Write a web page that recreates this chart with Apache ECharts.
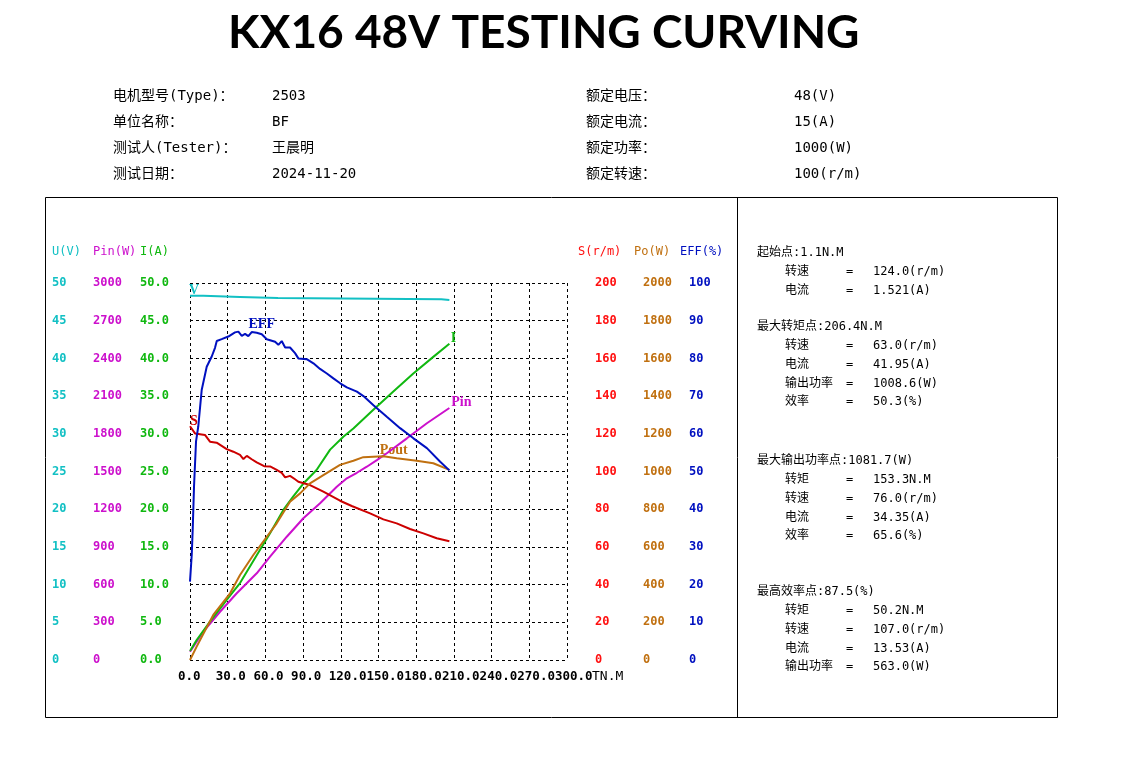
<!DOCTYPE html>
<html>
<head>
<meta charset="utf-8">
<title>KX16 48V TESTING CURVING</title>
<script src="https://cdn.jsdelivr.net/npm/echarts@6/dist/echarts.min.js"></script>
<style>
  html, body { margin: 0; padding: 0; background: #fff; }
  #main { width: 1129px; height: 769px; }
</style>
</head>
<body>
<div id="main"></div>
<script>
// torque axis, N.M
const torqueMin = 0, torqueMax = 300, torqueStep = 30;

// voltage U(V)
const vTorque = [0, 10.6, 10.7, 39.8, 39.9, 70, 70.1, 200, 200.1, 206.4];
const vVolt   = [48.3, 48.3, 48.15, 48.15, 48.0, 48.0, 47.85, 47.85, 47.75, 47.75];

// efficiency EFF(%)
const effTorque = [0, 1.4, 2.2, 3.2, 4.8, 6.6, 9.3, 13.3, 17.3, 19.9, 21.3, 25.2, 30.5, 35.8, 38.5, 41.2, 43.8, 46.4,
  49.1, 53.1, 57.1, 61.1, 67.7, 70.3, 73.0, 75.7, 79.6, 83.6, 86.2, 92.9, 98.2, 103.5, 108.9, 114.1, 119.5, 124.8,
  132.8, 138.0, 146.0, 156.6, 167.2, 177.8, 188.5, 199.1, 206.4];
const effValue = [20.8, 28, 35, 46, 58, 62, 71.6, 77.8, 80.5, 82.8, 84.6, 85.1, 85.8, 86.9, 87.1, 86.0, 86.5, 85.9,
  87.0, 86.8, 86.4, 85.1, 84.4, 83.6, 84.6, 82.9, 82.9, 81.4, 80.0, 79.8, 78.7, 77.2, 76.0, 74.7, 73.4, 72.3,
  71.2, 70.0, 67.6, 64.5, 61.5, 58.8, 56.2, 52.6, 50.3];

// speed S(r/m)
const sTorque = [0, 4, 11.9, 15.9, 21.2, 29.2, 34.5, 39.8, 42.5, 45.2, 49.1, 53.1, 59.0, 63.7, 69.0, 73.0, 75.7,
  79.6, 83.6, 86.2, 95.5, 106.1, 119.4, 128.7, 143.3, 153.9, 164.5, 175.1, 185.7, 196.3, 206.4];
const sSpeed  = [124.0, 120.2, 119.4, 115.8, 115.3, 111.9, 110.5, 108.8, 106.6, 108.3, 106.5, 104.8, 102.8, 102.7,
  100.8, 99.3, 96.9, 97.7, 95.9, 94.6, 92.8, 89.3, 84.5, 81.7, 77.8, 74.6, 72.5, 69.5, 67.2, 64.6, 63.0];

// current I(A)
const iTorque  = [0, 5.3, 15.9, 29.2, 39.8, 53.1, 63.7, 74.3, 82.2, 90.2, 100.7, 111.5, 122.0, 130.0, 145.9, 161.8,
  177.7, 193.6, 206.4];
const iCurrent = [1.2, 2.65, 5.08, 7.96, 10.2, 13.9, 16.8, 19.9, 21.7, 23.4, 25.2, 27.9, 29.6, 30.7, 33.2, 35.6,
  38.0, 40.2, 41.95];

// input power Pin(W)
const pinTorque = [0, 10.6, 23.9, 37.2, 53.1, 63.7, 77.0, 90.2, 103.5, 116.8, 124.8, 132.8, 140.7, 148.7, 156.6,
  172.6, 188.5, 206.4];
const pinPower  = [66, 225, 384, 531, 690, 822, 981, 1128, 1247, 1379, 1446, 1490, 1538, 1591, 1645, 1764, 1884, 2005];

// output power Po(W)
const poutTorque = [0, 5.3, 18.5, 31.9, 39.8, 50.4, 61.1, 69.0, 79.6, 87.6, 95.5, 106.1, 119.4, 130.0, 137.9, 153.9,
  164.5, 180.4, 193.6, 206.4];
const poutPower  = [0, 71, 239, 354, 451, 557, 654, 725, 840, 884, 937, 981, 1035, 1057, 1076, 1081, 1070, 1057,
  1044, 1008.6];

// header info
const infoLeft = [['电机型号(Type)：', '2503'], ['单位名称：', 'BF'], ['测试人(Tester)：', '王晨明'], ['测试日期：', '2024-11-20']];
const infoRight = [['额定电压：', '48(V)'], ['额定电流：', '15(A)'], ['额定功率：', '1000(W)'], ['额定转速：', '100(r/m)']];

// result panel
const panelTitles = ['起始点:1.1N.M', '最大转矩点:206.4N.M', '最大输出功率点:1081.7(W)', '最高效率点:87.5(%)'];
const panelRows = [
  [['转速', '124.0(r/m)'], ['电流', '1.521(A)']],
  [['转速', '63.0(r/m)'], ['电流', '41.95(A)'], ['输出功率', '1008.6(W)'], ['效率', '50.3(%)']],
  [['转矩', '153.3N.M'], ['转速', '76.0(r/m)'], ['电流', '34.35(A)'], ['效率', '65.6(%)']],
  [['转矩', '50.2N.M'], ['转速', '107.0(r/m)'], ['电流', '13.53(A)'], ['输出功率', '563.0(W)']]
];

const C = {
  u: '#12c0c4', pin: '#cc10cc', i: '#10b810',
  sLab: '#ff1010', sLine: '#cc0000', po: '#c07010', eff: '#0010c0'
};
const monoFont = "'DejaVu Sans Mono', 'Noto Sans CJK SC', monospace";
const cjkFont = "'DejaVu Sans Mono', 'Noto Sans CJK SC', sans-serif";

const pairs = (xs, ys) => xs.map((x, k) => [x, ys[k]]);

function yAxisDef(idx, pos, offset, min, max, interval, color, digits) {
  return {
    type: 'value', position: pos, offset: offset, min: min, max: max, interval: interval,
    axisLine: { show: false }, axisTick: { show: false },
    splitLine: idx === 0 ? { show: true, lineStyle: { color: '#000', type: [3, 3], width: 1 } } : { show: false },
    axisLabel: {
      color: color, fontFamily: monoFont, fontWeight: 'bold', fontSize: 12,
      align: 'left', margin: 0, padding: [0, 0, 14, 0],
      showMinLabel: true, showMaxLabel: true,
      formatter: v => v.toFixed(digits)
    }
  };
}

function lineSeries(name, yIdx, data, color, mark) {
  return {
    name: name, type: 'line', xAxisIndex: 0, yAxisIndex: yIdx, data: data,
    showSymbol: false, symbol: 'none', lineStyle: { color: color, width: 2 }, itemStyle: { color: color },
    z: 5,
    markPoint: {
      symbol: 'circle', symbolSize: 0, silent: true,
      data: [{ coord: mark.coord, label: {
        show: true, formatter: mark.text, color: color, offset: mark.offset,
        fontFamily: "'Liberation Serif', serif", fontWeight: 'bold', fontSize: 14
      } }]
    }
  };
}

const graphics = [];
// outer frame
graphics.push({ type: 'rect', shape: { x: 45.5, y: 197.5, width: 1012, height: 520 }, style: { fill: 'none', stroke: '#000', lineWidth: 1 } });
graphics.push({ type: 'line', shape: { x1: 737.5, y1: 197.5, x2: 737.5, y2: 717.5 }, style: { stroke: '#000', lineWidth: 1 } });
// title
graphics.push({ type: 'text', left: 545 - 317, top: 10, style: {
  text: 'KX16 48V TESTING CURVING', fill: '#000', font: "bold 46px 'Lato', sans-serif" } });
// header info
infoLeft.forEach((r, k) => {
  const y = 96 + k * 26;
  graphics.push({ type: 'text', x: 113, y: y, style: { text: r[0], fill: '#000', font: "14px " + cjkFont, verticalAlign: 'middle' } });
  graphics.push({ type: 'text', x: 272, y: y, style: { text: r[1], fill: '#000', font: "14px " + cjkFont, verticalAlign: 'middle' } });
});
infoRight.forEach((r, k) => {
  const y = 96 + k * 26;
  graphics.push({ type: 'text', x: 586, y: y, style: { text: r[0], fill: '#000', font: "14px " + cjkFont, verticalAlign: 'middle' } });
  graphics.push({ type: 'text', x: 794, y: y, style: { text: r[1], fill: '#000', font: "14px " + cjkFont, verticalAlign: 'middle' } });
});
// axis headers
[['U(V)', 52, C.u], ['Pin(W)', 93, C.pin], ['I(A)', 140, C.i],
 ['S(r/m)', 578, C.sLab], ['Po(W)', 634, C.po], ['EFF(%)', 680, C.eff]].forEach(h => {
  graphics.push({ type: 'text', x: h[1], y: 252, style: { text: h[0], fill: h[2], font: "12px " + monoFont, verticalAlign: 'middle' } });
});
// result panel
const panelTop = [253, 327, 461, 592];
panelTitles.forEach((t, b) => {
  const y0 = panelTop[b];
  graphics.push({ type: 'text', x: 757, y: y0, style: { text: t, fill: '#000', font: "12px " + cjkFont, verticalAlign: 'middle' } });
  panelRows[b].forEach((r, k) => {
    const y = y0 + 18.8 * (k + 1);
    graphics.push({ type: 'text', x: 785, y: y, style: { text: r[0], fill: '#000', font: "12px " + cjkFont, verticalAlign: 'middle' } });
    graphics.push({ type: 'text', x: 846, y: y, style: { text: '=', fill: '#000', font: "12px " + cjkFont, verticalAlign: 'middle' } });
    graphics.push({ type: 'text', x: 873, y: y, style: { text: r[1], fill: '#000', font: "12px " + cjkFont, verticalAlign: 'middle' } });
  });
});

const chart = echarts.init(document.getElementById('main'));
chart.setOption({
  animation: false,
  backgroundColor: '#fff',
  grid: { left: 190, top: 283, width: 377, height: 377, containLabel: false },
  graphic: graphics,
  xAxis: {
    type: 'value', min: torqueMin, max: torqueMax, interval: torqueStep,
    axisLine: { show: false }, axisTick: { show: false },
    splitLine: { show: true, lineStyle: { color: '#000', type: [3, 3], width: 1 } },
    axisLabel: {
      interval: 0, color: '#000', fontFamily: monoFont, fontWeight: 'bold', fontSize: 12.5,
      align: 'left', padding: [0, 0, 0, -12], margin: 10, hideOverlap: false,
      showMinLabel: true, showMaxLabel: true,
      formatter: v => v.toFixed(1)
    },
    name: 'TN.M', nameLocation: 'end', nameGap: 25, nameMoveOverlap: false,
    nameTextStyle: { color: '#000', fontFamily: monoFont, fontSize: 13, verticalAlign: 'top', padding: [10, 0, 0, 0] }
  },
  yAxis: [
    yAxisDef(0, 'left', 138, 0, 50, 5, C.u, 0),
    yAxisDef(1, 'left', 97, 0, 3000, 300, C.pin, 0),
    yAxisDef(2, 'left', 50, 0, 50, 5, C.i, 1),
    yAxisDef(3, 'right', 28, 0, 200, 20, C.sLab, 0),
    yAxisDef(4, 'right', 76, 0, 2000, 200, C.po, 0),
    yAxisDef(5, 'right', 122, 0, 100, 10, C.eff, 0)
  ],
  series: [
    lineSeries('V', 0, pairs(vTorque, vVolt), C.u, { coord: [vTorque[0], vVolt[0]], text: 'V', offset: [4, -5] }),
    lineSeries('Pin', 1, pairs(pinTorque, pinPower), C.pin, { coord: [pinTorque[pinTorque.length - 1], pinPower[pinPower.length - 1]], text: 'Pin', offset: [12, -6] }),
    lineSeries('I', 2, pairs(iTorque, iCurrent), C.i, { coord: [iTorque[iTorque.length - 1], iCurrent[iCurrent.length - 1]], text: 'I', offset: [4, -5] }),
    lineSeries('S', 3, pairs(sTorque, sSpeed), C.sLine, { coord: [sTorque[0], sSpeed[0]], text: 'S', offset: [4, -5] }),
    lineSeries('Pout', 4, pairs(poutTorque, poutPower), C.po, { coord: [poutTorque[16], poutPower[16]], text: 'Pout', offset: [-3, -8] }),
    lineSeries('EFF', 5, pairs(effTorque, effValue), C.eff, { coord: [effTorque[20], effValue[20]], text: 'EFF', offset: [0, -10] })
  ]
});
</script>
</body>
</html>
